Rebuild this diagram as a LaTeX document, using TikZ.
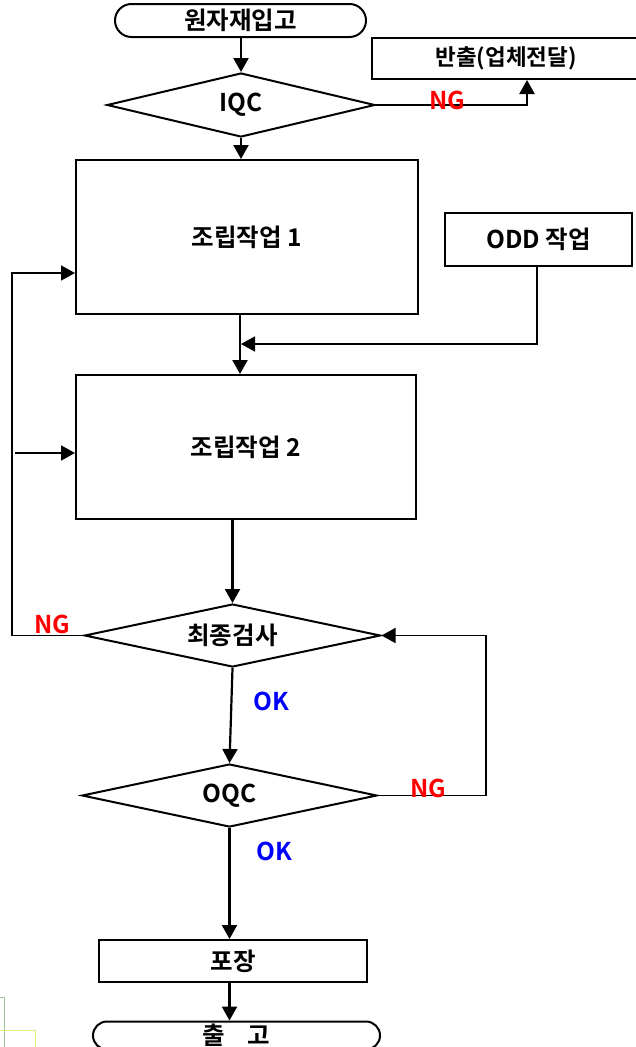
\documentclass[tikz,border=0pt]{standalone}
\usepackage{fontspec}
\setmainfont{Noto Sans CJK KR}[BoldFont={Noto Sans CJK KR Bold}]
\usepackage{xcolor}
\usetikzlibrary{arrows.meta, shapes.geometric, shapes.misc}
\definecolor{ngred}{HTML}{FF0000}
\definecolor{okblue}{HTML}{0000FF}
\definecolor{cgreen}{HTML}{9CC49A}
\definecolor{cyellow}{HTML}{E6EE7A}

\begin{document}
\begin{tikzpicture}[
  x=1pt, y=-1pt,
  font=\fontsize{24.5}{28}\selectfont\bfseries,
  >={Triangle[length=14pt, width=15pt]},
  box/.style={draw, line width=2pt, inner sep=0pt},
  term/.style={box, rounded rectangle},
  proc/.style={box, rectangle},
  test/.style={box, diamond, aspect=4},
  arr/.style={->, line width=2.2pt},
  loopline/.style={->, line width=1.6pt},
  ng/.style={text=ngred},
  ok/.style={text=okblue},
  ]
\useasboundingbox (0,0) rectangle (636,1047);

\node[term, minimum width=251pt, minimum height=33pt] (ipgo) at (240.5,20.5) {원자재입고};
\node[test, minimum width=268pt, minimum height=64pt] (iqc) at (241,105) {IQC};
\node[proc, minimum width=268pt, minimum height=41pt,
      font=\fontsize{22.5}{26}\selectfont\bfseries] (banchul) at (506,58.5) {반출(업체전달)};
\node[proc, minimum width=342pt, minimum height=154pt] (jorip1) at (247,237) {조립작업 1};
\node[proc, minimum width=187pt, minimum height=53pt] (odd) at (538.5,239.5) {ODD 작업};
\node[proc, minimum width=340pt, minimum height=144pt] (jorip2) at (246,447) {조립작업 2};
\node[test, minimum width=296pt, minimum height=63pt] (final) at (232.5,635.5) {최종검사};
\node[test, minimum width=295pt, minimum height=63pt] (oqc) at (229.5,795.5) {OQC};
\node[proc, minimum width=268pt, minimum height=42pt] (pojang) at (233,961) {포장};
\node[term, minimum width=287pt, minimum height=28pt] (chulgo) at (236.5,1035.5) {출\hspace{0.9em}고};

% rails and joints
\coordinate (axis) at (240,0);
\coordinate (ngtop) at (527,0);
\coordinate (join) at (241,344);
\coordinate (leftrail) at (12,273);
\coordinate (branch) at (15,453);
\coordinate (rightrail) at (486,635.5);

\draw[arr] (iqc.north |- ipgo.south) -- (iqc.north);
\draw[arr] (iqc.east) -| (banchul.south -| ngtop);
\draw[arr] (iqc.south) -- (iqc.south |- jorip1.north);
\draw[arr] (jorip1.south -| axis) -- (jorip2.north -| axis);
\draw[loopline] (odd.south -| 537,0) |- (join);
\draw[arr] (jorip2.south -| final.north) -- (final.north);
\draw[arr] (final.south) -- (oqc.north);
\draw[arr] (oqc.south) -- (pojang.north -| oqc.south);
\draw[arr] (pojang.south -| oqc.south) -- (chulgo.north -| oqc.south);

\draw[loopline] (final.west) -| (leftrail) -- (jorip1.west |- leftrail);
\draw[loopline] (branch) -- (jorip2.west |- branch);
\draw[loopline] (oqc.east) -| (rightrail) -- (final.east);

\node[ng] (ng1) at (447,100) {NG};
\node[ng] (ng2) at (52,624) {NG};
\node[ng] (ng3) at (428,788) {NG};
\node[ok] (ok1) at (271,701) {OK};
\node[ok] (ok2) at (274,851) {OK};

% faint marks bottom left
\draw[cgreen, line width=1pt] (0,997) -- (4,997) -- (4,1047);
\draw[cyellow, line width=1pt] (0,1030) -- (35,1030) -- (35,1047);
\end{tikzpicture}
\end{document}
